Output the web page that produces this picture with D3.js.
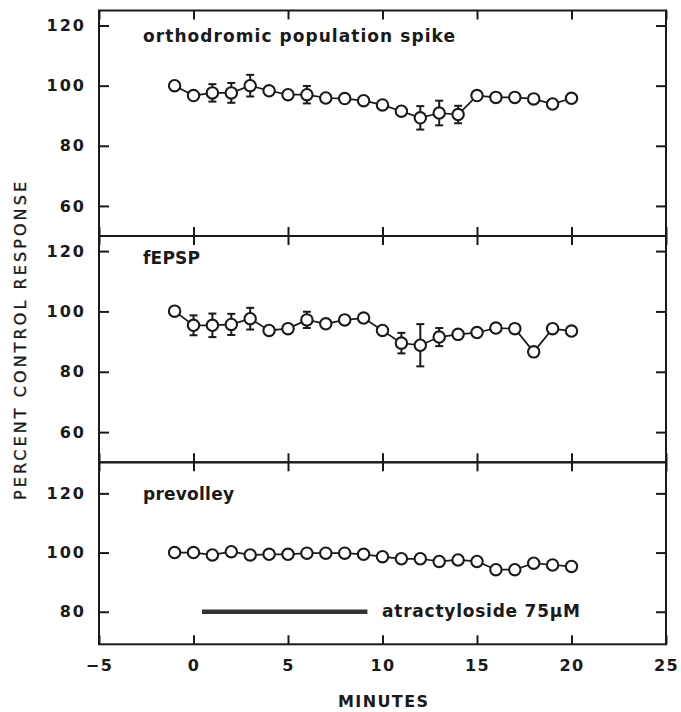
<!DOCTYPE html>
<html>
<head>
<meta charset="utf-8">
<script src="https://cdn.jsdelivr.net/npm/d3@7"></script>
<style>
  html, body { margin: 0; padding: 0; background: #fff; }
  svg { display: block; }
  text { font-family: "DejaVu Sans", sans-serif; fill: #1a1a1a; }
</style>
</head>
<body>
<svg id="chart" width="681" height="712"></svg>
<script>
// ---- data ----
const minutes = [-1, 0, 1, 2, 3, 4, 5, 6, 7, 8, 9, 10, 11, 12, 13, 14, 15, 16, 17, 18, 19, 20];

const spike    = [100, 96.7, 97.6, 97.6, 100, 98.3, 97, 97, 95.9, 95.7, 95, 93.6, 91.5, 89.3, 90.9, 90.4, 96.7, 96.1, 96.1, 95.6, 93.9, 95.8];
const spikeErr = [0, 0, 2.9, 3.3, 3.6, 0, 0, 2.9, 0, 0, 0, 0, 0, 3.9, 4.1, 2.9, 0, 0, 0, 0, 0, 0];

const fepsp    = [100.1, 95.4, 95.4, 95.7, 97.6, 93.7, 94.3, 97.2, 95.9, 97.2, 97.8, 93.7, 89.5, 88.8, 91.5, 92.4, 93, 94.5, 94.3, 86.6, 94.3, 93.5];
const fepspErr = [0, 3.3, 3.9, 3.5, 3.6, 0, 0, 2.7, 0, 0, 0, 0, 3.4, 7, 3, 0, 0, 0, 0, 0, 0, 0];

const prevolley    = [100, 100, 99.2, 100.3, 99.2, 99.4, 99.4, 99.8, 99.8, 99.8, 99.4, 98.6, 97.9, 97.9, 97, 97.5, 97, 94.2, 94.2, 96.4, 95.8, 95.3];
const prevolleyErr = [0, 0, 0, 0, 0, 0, 0, 0, 0, 0, 0, 0, 0, 0, 0, 0, 0, 0, 0, 0, 0, 0];

const panelLabels = ["orthodromic population spike", "fEPSP", "prevolley"];
const xTicks = [-5, 0, 5, 10, 15, 20, 25];
const yTicksTop = [60, 80, 100, 120];
const yTicksMid = [60, 80, 100, 120];
const yTicksBot = [80, 100, 120];
const drugBar = { start: 0.45, end: 9.2, level: 80, label: "atractyloside 75μM" };
const xTitle = "MINUTES";
const yTitle = "PERCENT CONTROL RESPONSE";

// ---- layout ----
const svg = d3.select("#chart");
const ink = "#1a1a1a";
const left = 99, right = 666;
const x = d3.scaleLinear().domain([-5, 25]).range([left, right]);

const panels = [
  { top: 10.5, bottom: 236, domain: [50, 125], vals: spike, err: spikeErr, ticks: yTicksTop, label: panelLabels[0], ly: 42, lw: 312 },
  { top: 236, bottom: 462.3, domain: [50, 125], vals: fepsp, err: fepspErr, ticks: yTicksMid, label: panelLabels[1], ly: 263.5, lw: 57 },
  { top: 462.3, bottom: 644.3, domain: [69, 130.5], vals: prevolley, err: prevolleyErr, ticks: yTicksBot, label: panelLabels[2], ly: 499.5, lw: 91 }
];

panels.forEach((p, i) => {
  const y = d3.scaleLinear().domain(p.domain).range([p.bottom, p.top]);
  p.y = y;
  const g = svg.append("g");

  // x ticks top (inside)
  g.append("g").attr("transform", `translate(0,${p.top})`)
    .call(d3.axisTop(x).tickValues(xTicks).tickSize(-9).tickSizeOuter(0).tickFormat(""))
    .call(a => a.select(".domain").remove());
  // x ticks bottom (inside)
  const isLast = i === panels.length - 1;
  const xb = g.append("g").attr("transform", `translate(0,${p.bottom})`)
    .call(d3.axisBottom(x).tickValues(xTicks).tickSize(-9).tickSizeOuter(0).tickPadding(15)
      .tickFormat(isLast ? d3.format("d") : ""))
    .call(a => a.select(".domain").remove());
  xb.selectAll("text").attr("font-size", 16).attr("font-weight", "bold")
    .attr("letter-spacing", "1.5px").attr("fill", ink)
    .style("font-family", '"DejaVu Sans", sans-serif');

  // y ticks left
  const yl = g.append("g").attr("transform", `translate(${left},0)`)
    .call(d3.axisLeft(y).tickValues(p.ticks).tickSize(-10).tickSizeOuter(0).tickPadding(13))
    .call(a => a.select(".domain").remove());
  yl.selectAll("text").attr("font-size", 16).attr("font-weight", "bold")
    .attr("letter-spacing", "2px").attr("fill", ink)
    .style("font-family", '"DejaVu Sans", sans-serif');
  // y ticks right
  g.append("g").attr("transform", `translate(${right},0)`)
    .call(d3.axisRight(y).tickValues(p.ticks).tickSize(-10).tickSizeOuter(0).tickFormat(""))
    .call(a => a.select(".domain").remove());

  g.selectAll(".tick line").attr("stroke", ink).attr("stroke-width", 2);

  // panel label
  g.append("text").attr("x", 143).attr("y", p.ly)
    .attr("font-size", 17).attr("font-weight", "bold")
    .attr("textLength", p.lw).attr("lengthAdjust", "spacing")
    .text(p.label);

  // connecting line
  const line = d3.line().x((d, k) => x(minutes[k])).y(d => y(d));
  g.append("path").datum(p.vals).attr("d", line)
    .attr("fill", "none").attr("stroke", ink).attr("stroke-width", 1.7);

  // error bars
  const eb = g.selectAll(".eb").data(p.vals.map((v, k) => ({ m: minutes[k], v, e: p.err[k] })).filter(d => d.e > 0))
    .enter().append("g");
  eb.append("line")
    .attr("x1", d => x(d.m)).attr("x2", d => x(d.m))
    .attr("y1", d => y(d.v - d.e)).attr("y2", d => y(d.v + d.e))
    .attr("stroke", ink).attr("stroke-width", 2);
  [1, -1].forEach(s => {
    eb.append("line")
      .attr("x1", d => x(d.m) - 4).attr("x2", d => x(d.m) + 4)
      .attr("y1", d => y(d.v + s * d.e)).attr("y2", d => y(d.v + s * d.e))
      .attr("stroke", ink).attr("stroke-width", 2);
  });

  // markers
  g.selectAll("circle").data(p.vals).enter().append("circle")
    .attr("cx", (d, k) => x(minutes[k])).attr("cy", d => y(d)).attr("r", 5.7)
    .attr("fill", "#fff").attr("stroke", ink).attr("stroke-width", 2.1);

  // frame
  g.append("rect").attr("x", left).attr("y", p.top)
    .attr("width", right - left).attr("height", p.bottom - p.top)
    .attr("fill", "none").attr("stroke", ink).attr("stroke-width", 2);
});

// drug bar
const yb = panels[2].y;
svg.append("line")
  .attr("x1", x(drugBar.start)).attr("x2", x(drugBar.end))
  .attr("y1", yb(drugBar.level)).attr("y2", yb(drugBar.level))
  .attr("stroke", "#333").attr("stroke-width", 4.5);
svg.append("text").attr("x", 382).attr("y", 617)
  .attr("font-size", 17).attr("font-weight", "bold")
  .attr("textLength", 198).attr("lengthAdjust", "spacing")
  .text(drugBar.label);

// axis titles
svg.append("text").attr("x", 383).attr("y", 707)
  .attr("text-anchor", "middle").attr("font-size", 16).attr("font-weight", "bold")
  .attr("textLength", 90).attr("lengthAdjust", "spacing")
  .text(xTitle);
svg.append("text")
  .attr("transform", "translate(26,341) rotate(-90)")
  .attr("text-anchor", "middle").attr("font-size", 16)
  .attr("stroke", ink).attr("stroke-width", 0.35)
  .attr("textLength", 318).attr("lengthAdjust", "spacing")
  .text(yTitle);
</script>
</body>
</html>
